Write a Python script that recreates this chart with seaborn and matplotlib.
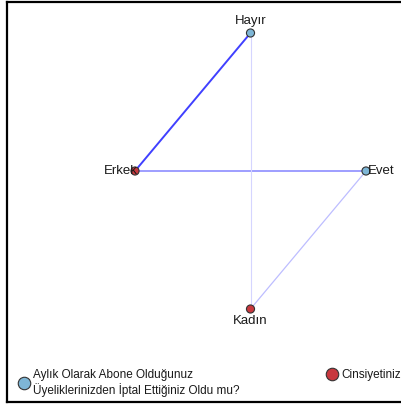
import numpy as np
import pandas as pd
import matplotlib
matplotlib.use("Agg")
import matplotlib.pyplot as plt
import seaborn as sns
from matplotlib.lines import Line2D

# nodes of the co-occurrence network (layout units)
node_names = ["Hayır", "Erkek", "Evet", "Kadın"]
node_group = ["Aylık Olarak Abone Olduğunuz\nÜyeliklerinizden İptal Ettiğiniz Oldu mu?",
              "Cinsiyetiniz", "Aylık Olarak Abone Olduğunuz\nÜyeliklerinizden İptal Ettiğiniz Oldu mu?",
              "Cinsiyetiniz"]
node_x = [0, -1, 1, 0]
node_y = [1, 0, 0, -1]

# edges and their strength
edge_src = ["Hayır", "Erkek", "Evet", "Hayır"]
edge_dst = ["Erkek", "Evet", "Kadın", "Kadın"]
edge_weight = [1.0, 0.6, 0.28, 0.14]

group_names = ["Aylık Olarak Abone Olduğunuz\nÜyeliklerinizden İptal Ettiğiniz Oldu mu?", "Cinsiyetiniz"]
group_colors = ["#7eb6d6", "#c8383e"]

nodes = pd.DataFrame({"name": node_names, "group": node_group, "x": node_x, "y": node_y})
pos = nodes.set_index("name")[["x", "y"]]

sns.set_style("white")
plt.rcParams["font.family"] = ["Liberation Sans", "DejaVu Sans"]

fig = plt.figure(figsize=(4.01, 4.05), dpi=100)
W, H = 401, 405
# frame: left edge at 7px, top at 2px, bottom at 402px, right runs off the image
ax = fig.add_axes([7 / W, 3 / H, 1.2, 400 / H])
for sp in ax.spines.values():
    sp.set_color("black")
    sp.set_linewidth(1.6)

# map layout units to the reference pixel placement
sx, cx = 115.5, 250.5
sy, cy = 138.0, 171.0
ax.set_xlim((7 - cx) / sx, (7 + 1.2 * W - cx) / sx)
ax.set_ylim((cy - 402) / sy, (cy - 2) / sy)
ax.set_xticks([])
ax.set_yticks([])

base = np.array([0.93, 0.93, 1.0])
full = np.array([0.25, 0.25, 1.0])
for s, d, w in zip(edge_src, edge_dst, edge_weight):
    col = base + (full - base) * w
    ax.plot([pos.loc[s, "x"], pos.loc[d, "x"]], [pos.loc[s, "y"], pos.loc[d, "y"]],
            color=col, lw=0.7 + 0.7 * w, zorder=1, solid_capstyle="round")

sns.scatterplot(data=nodes, x="x", y="y", hue="group", hue_order=group_names,
                palette=group_colors, s=34, edgecolor="#333333", linewidth=0.8,
                legend=False, ax=ax, zorder=3)

label_style = dict(fontsize=9.5, color="#1a1a1a", textcoords="offset points")
for name, x, y in zip(node_names, node_x, node_y):
    if y > 0:
        ax.annotate(name, (x, y), xytext=(0, 4), ha="center", va="bottom", **label_style)
    elif y < 0:
        ax.annotate(name, (x, y), xytext=(0, -4), ha="center", va="top", **label_style)
    elif x < 0:
        ax.annotate(name, (x, y), xytext=(2, 0), ha="right", va="center", **label_style)
    else:
        ax.annotate(name, (x, y), xytext=(1.5, 0), ha="left", va="center", **label_style)

handles = [Line2D([], [], ls="", marker="o", markersize=9, markerfacecolor=c,
                  markeredgecolor="#333333", markeredgewidth=0.8) for c in group_colors]
anchors = [(19 / W, 1 - 383 / H), (327 / W, 1 - 375 / H)]
for h, lab, anc in zip(handles, group_names, anchors):
    fig.legend([h], [lab], loc="center left", bbox_to_anchor=anc, frameon=False,
               fontsize=8.5, handlelength=0.9, handletextpad=0.3,
               borderpad=0, borderaxespad=0, labelcolor="#1a1a1a")

fig.savefig("out.png", dpi=100)
